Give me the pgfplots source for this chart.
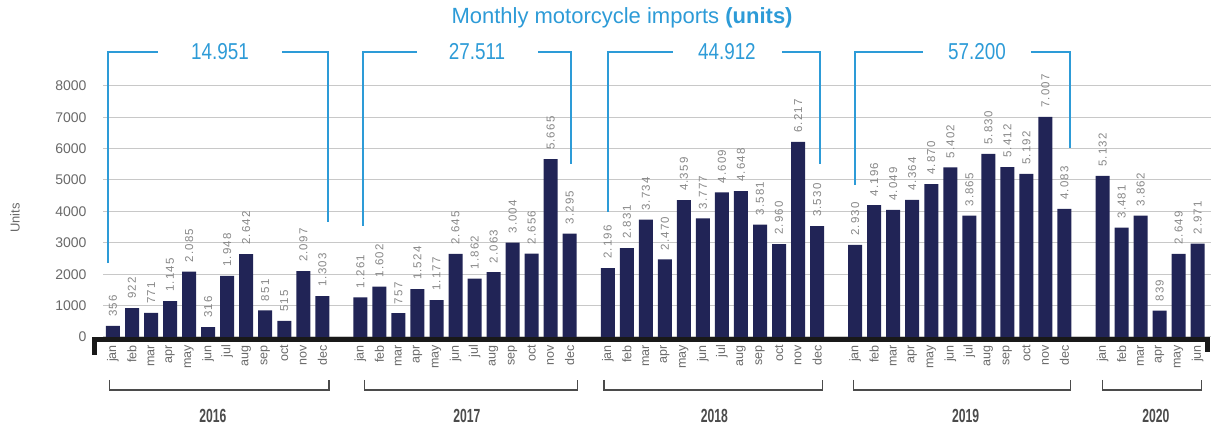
\documentclass[border=0pt]{standalone}
\usepackage{fontspec}
\setmainfont{Liberation Sans}
\usepackage{graphicx}
\usepackage{pgfplots}
\usepackage{pgfplotstable}
\pgfplotsset{compat=1.18}
\definecolor{navy}{RGB}{33,36,86}
\definecolor{tblue}{RGB}{45,155,215}
\definecolor{lblgray}{RGB}{135,135,135}
\definecolor{gridgray}{RGB}{200,200,200}
\definecolor{tickgray}{RGB}{105,105,105}
\definecolor{yeargray}{RGB}{75,75,75}

\pgfplotstableread{
x y
0 356
1 922
2 771
3 1145
4 2085
5 316
6 1948
7 2642
8 851
9 515
10 2097
11 1303
13 1261
14 1602
15 757
16 1524
17 1177
18 2645
19 1862
20 2063
21 3004
22 2656
23 5665
24 3295
26 2196
27 2831
28 3734
29 2470
30 4359
31 3777
32 4609
33 4648
34 3581
35 2960
36 6217
37 3530
39 2930
40 4196
41 4049
42 4364
43 4870
44 5402
45 3865
46 5830
47 5412
48 5192
49 7007
50 4083
52 5132
53 3481
54 3862
55 839
56 2649
57 2971
}\imports

\begin{document}
\begin{tikzpicture}
\begin{axis}[
  scale only axis,
  width=1108.0pt, height=251.2pt,
  xmin=-0.525, xmax=57.7, ymin=0, ymax=8000,
  clip=false,
  axis line style={draw=none},
  major tick length=0pt,
  ytick={0,1000,...,8000},
  scaled y ticks=false,
  ymajorgrids,
  grid style={gridgray, line width=1pt},
  /pgf/number format/assume math mode=true,
  yticklabel style={font=\fontsize{14}{14}\selectfont, text=tickgray, xshift=-13pt, /pgf/number format/1000 sep={}},
  xtick={0,1,2,3,4,5,6,7,8,9,10,11,13,14,15,16,17,18,19,20,21,22,23,24,26,27,28,29,30,31,32,33,34,35,36,37,39,40,41,42,43,44,45,46,47,48,49,50,52,53,54,55,56,57},
  xticklabels={jan,feb,mar,apr,may,jun,jul,aug,sep,oct,nov,dec,jan,feb,mar,apr,may,jun,jul,aug,sep,oct,nov,dec,jan,feb,mar,apr,may,jun,jul,aug,sep,oct,nov,dec,jan,feb,mar,apr,may,jun,jul,aug,sep,oct,nov,dec,jan,feb,mar,apr,may,jun},
  xticklabel style={rotate=90, anchor=east, font=\fontsize{12.5}{12.5}\selectfont, text=tickgray, inner xsep=8pt, inner ysep=0pt},
]
\addplot[ybar, bar width=14pt, fill=navy, draw=none,
  nodes near coords,
  nodes near coords style={rotate=90, anchor=west, font=\fontsize{11.5}{11.5}\selectfont\addfontfeatures{LetterSpace=10}, text=lblgray, inner xsep=9pt, inner ysep=0pt, /pgf/number format/1000 sep={.}}
] table[x=x, y=y] {\imports};

% axis base line
\draw[black!90, line width=5pt] (axis cs:-0.95,-560) -- (axis cs:-0.95,-80) -- (axis cs:57.5,-80) -- (axis cs:57.5,-478);

% title
\node[text=tblue, font=\fontsize{22}{26}\selectfont] at (axis cs:26.75,10159) {Monthly motorcycle imports \textbf{(units)}};

% y label
\node[rotate=90, text=tickgray, font=\fontsize{13}{13}\selectfont] at (axis cs:-5.15,3790) {Units};

% year totals brackets
\begin{scope}[tblue, line width=1.3pt]
\draw (axis cs:-0.26,2350) -- (axis cs:-0.26,9076) -- (axis cs:2.36,9076);
\draw (axis cs:8.88,9076) -- (axis cs:11.30,9076) -- (axis cs:11.30,3662);
\draw (axis cs:13.14,3535) -- (axis cs:13.14,9076) -- (axis cs:15.97,9076);
\draw (axis cs:22.33,9076) -- (axis cs:24.07,9076) -- (axis cs:24.07,5510);
\draw (axis cs:26.01,3981) -- (axis cs:26.01,9076) -- (axis cs:29.43,9076);
\draw (axis cs:35.15,9076) -- (axis cs:37.15,9076) -- (axis cs:37.15,5510);
\draw (axis cs:38.99,4841) -- (axis cs:38.99,9076) -- (axis cs:42.56,9076);
\draw (axis cs:48.24,9076) -- (axis cs:50.29,9076) -- (axis cs:50.29,6019);
\end{scope}
\begin{scope}[every node/.style={text=tblue, font=\fontsize{23}{23}\selectfont}]
\node at (axis cs:5.62,9076) {\scalebox{0.82}[1]{14.951}};
\node at (axis cs:19.13,9076) {\scalebox{0.82}[1]{27.511}};
\node at (axis cs:32.26,9076) {\scalebox{0.82}[1]{44.912}};
\node at (axis cs:45.40,9076) {\scalebox{0.82}[1]{57.200}};
\end{scope}

% bottom year brackets
\begin{scope}[yeargray, line width=1.2pt]
\draw (axis cs:-0.2,-1369) -- (axis cs:-0.2,-1688) -- (axis cs:11.35,-1688) -- (axis cs:11.35,-1369);
\draw (axis cs:13.2,-1369) -- (axis cs:13.2,-1688) -- (axis cs:24.4,-1688) -- (axis cs:24.4,-1369);
\draw (axis cs:25.8,-1369) -- (axis cs:25.8,-1688) -- (axis cs:37.3,-1688) -- (axis cs:37.3,-1369);
\draw (axis cs:38.9,-1369) -- (axis cs:38.9,-1688) -- (axis cs:50.3,-1688) -- (axis cs:50.3,-1369);
\draw (axis cs:52.0,-1369) -- (axis cs:52.0,-1688) -- (axis cs:57.2,-1688) -- (axis cs:57.2,-1369);
\end{scope}
\begin{scope}[every node/.style={text=yeargray, font=\fontsize{19}{19}\selectfont\bfseries}]
\node at (axis cs:5.25,-2516) {\scalebox{0.64}[1]{2016}};
\node at (axis cs:18.6,-2516) {\scalebox{0.64}[1]{2017}};
\node at (axis cs:31.6,-2516) {\scalebox{0.64}[1]{2018}};
\node at (axis cs:44.8,-2516) {\scalebox{0.64}[1]{2019}};
\node at (axis cs:54.8,-2516) {\scalebox{0.64}[1]{2020}};
\end{scope}

\coordinate (bbsw) at (axis cs:-5.938,-2866);
\coordinate (bbne) at (axis cs:57.70,10732);
\end{axis}
\pgfresetboundingbox
\path[use as bounding box] (bbsw) rectangle (bbne);
\end{tikzpicture}
\end{document}
